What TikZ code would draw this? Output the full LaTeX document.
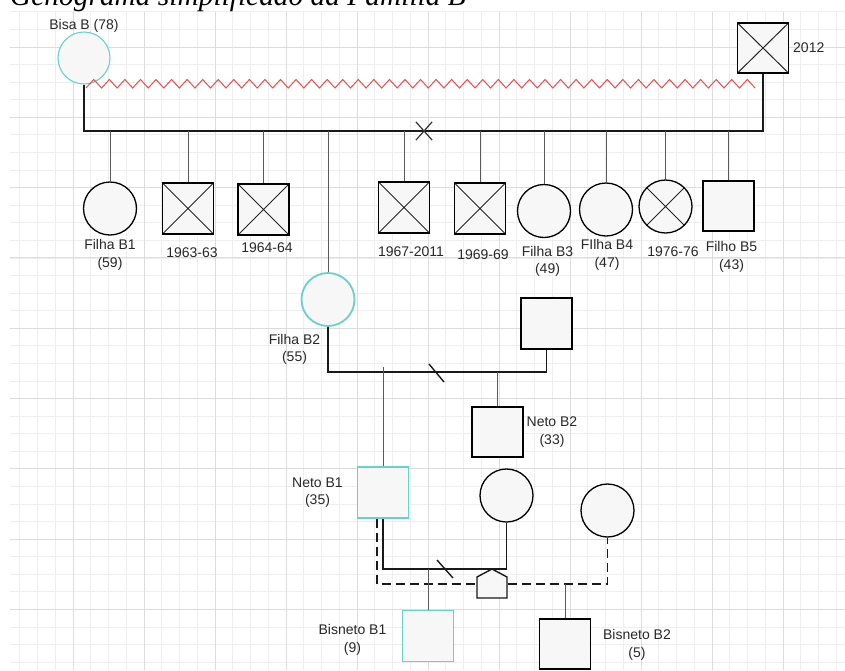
\documentclass[tikz,border=0pt]{standalone}
\usepackage{fontspec}
\newfontfamily\lsans{Liberation Sans}
\newfontfamily\lserif{Liberation Serif}
\usetikzlibrary{shapes.misc}
\definecolor{gminor}{RGB}{238,238,238}
\definecolor{gmajor}{RGB}{220,220,220}
\definecolor{symfill}{RGB}{247,247,247}
\definecolor{tealc}{RGB}{104,210,200}
\definecolor{zzred}{RGB}{228,78,78}
\definecolor{txt}{RGB}{40,40,40}
\definecolor{dropc}{RGB}{90,90,90}
\begin{document}
\begin{tikzpicture}[x=1pt,y=-1pt,
  male/.style={rectangle, draw=black, line width=1.3pt, fill=symfill, minimum width=51pt, minimum height=51pt, inner sep=0pt},
  female/.style={circle, draw=black, line width=1.3pt, fill=symfill, minimum size=53pt, inner sep=0pt},
  deadx/.style={path picture={\draw[line width=1pt,black!85] (path picture bounding box.north west) -- (path picture bounding box.south east) (path picture bounding box.south west) -- (path picture bounding box.north east);}},
  lbl/.style={font=\lsans\fontsize{14}{17.5}\selectfont, text=txt, align=center, inner sep=0pt},
  rel/.style={draw=black!90, line width=1.4pt},
  drop/.style={draw=dropc, line width=0.9pt},
  zz/.style={draw=zzred, line width=1pt, line join=miter},
  dashrel/.style={draw=black!90, line width=1.4pt, dash pattern=on 9pt off 5pt},
  gmin/.style={draw=gminor, line width=0.8pt},
  gmaj/.style={draw=gmajor, line width=0.9pt}
]
\useasboundingbox (0,0) rectangle (845,670);
\clip (0,0) rectangle (845,670);
\fill[white] (0,0) rectangle (845,670);
% grid
\foreach \i in {0,...,46} { \draw[gmin] ({19.75+17.75*\i},11.85) -- ({19.75+17.75*\i},670); }
\foreach \i in {0,...,37} { \draw[gmin] (10,{11.85+17.575*\i}) -- (845,{11.85+17.575*\i}); }
\foreach \i in {0,...,10} { \draw[gmaj] ({73+71*\i},11.85) -- ({73+71*\i},670); }
\foreach \i in {0,...,8} { \draw[gmaj] (10,{47+70.3*\i}) -- (845,{47+70.3*\i}); }
% title
\node[anchor=base west, inner sep=0pt, font=\lserif\itshape\fontsize{29.4}{32}\selectfont] (title) at (10,5) {Genograma simplificado da Família B};

% generation 1
\node[female, draw=tealc, line width=1.1pt, minimum size=52pt] (bisa) at (84,58) {};
\node[male, deadx, minimum height=50pt] (bisaP) at (763,48) {};
\node[lbl] (lbisa) at (84,26) {Bisa B (78)};
\node[lbl, anchor=west] (lbisaP) at (793,48) {2012};
\coordinate (zzs) at (86,88);
\draw[zz] (zzs) \foreach \i in {1,...,43} { -- ++(7.78,-8.5) -- ++(7.78,8.5) };
\coordinate (m1) at (84,131);
\coordinate (m2) at (763,131);
\draw[rel] (bisa.south) -- (m1) -- (m2) -- (bisaP.south);
\node[cross out, draw=black!80, line width=1.2pt, minimum width=15pt, minimum height=17pt, inner sep=0pt] (xsep) at (424,131) {};

% generation 2
\node[female] (fb1) at (110,208.5) {};
\node[male, deadx] (d63) at (188,208.5) {};
\node[male, deadx] (d64) at (263.5,209.5) {};
\node[male, deadx] (d67) at (404,207.5) {};
\node[male, deadx] (d69) at (480,208.5) {};
\node[female] (fb3) at (544,211) {};
\node[female] (fb4) at (606,209.5) {};
\node[female, deadx] (d76) at (665.5,206.5) {};
\node[male, minimum height=50pt] (fb5) at (728.5,206) {};
\node[female, draw=tealc, line width=1.8pt] (fb2) at (328,299.5) {};
\foreach \n in {fb1,d63,d64,d67,d69,fb3,fb4,d76,fb5,fb2} { \draw[drop] (\n.north |- m1) -- (\n.north); }

\node[lbl] (lfb1) at (110,255) {Filha B1\\(59)};
\node[lbl] (l63) at (192,253) {1963-63};
\node[lbl] (l64) at (267,248) {1964-64};
\node[lbl] (l67) at (411,252) {1967-2011};
\node[lbl] (l69) at (483,255) {1969-69};
\node[lbl] (lfb3) at (547.5,261.5) {Filha B3\\(49)};
\node[lbl] (lfb4) at (607,255) {FIlha B4\\(47)};
\node[lbl] (l76) at (673,252) {1976-76};
\node[lbl] (lfb5) at (731.5,257) {Filho B5\\(43)};
\node[lbl] (lfb2) at (294.5,349.5) {Filha B2\\(55)};

% couple 2
\node[male] (pB2) at (546.5,323.5) {};
\coordinate (c2a) at (328,372);
\coordinate (c2b) at (546.5,372);
\draw[rel] (fb2.south) -- (c2a) -- (c2b) -- (pB2.south);
\draw[rel] (429,364) -- (444,382);

% generation 3
\node[male, draw=tealc] (nb1) at (383,492.5) {};
\node[male, minimum height=50pt] (nb2) at (497.5,432) {};
\draw[drop] ([yshift=5pt]nb1.north |- c2a) -- (nb1.north);
\draw[drop] (nb2.north |- c2a) -- (nb2.north);
\node[lbl] (lnb2) at (552,432) {Neto B2\\(33)};
\node[lbl] (lnb1) at (317.5,492.5) {Neto B1\\(35)};

\node[female] (w1) at (506.5,495.5) {};
\node[female] (w2) at (607.5,510.5) {};
\coordinate (s3) at (506.5,569);
\coordinate (d3) at (607.5,584);
\draw[dashrel] ([xshift=-6pt]nb1.south) |- (d3) -- (w2.south);
\draw[rel] (nb1.south) |- (s3) -- (w1.south);
\draw[rel] (437,560) -- (453,578);
\draw[rel, fill=symfill] (477,598) -- (507,598) -- (507,577) -- (492,569) -- (477,577) -- cycle;

% generation 4
\node[male, draw=tealc] (bb1) at (428,636) {};
\node[male, minimum height=50pt] (bb2) at (565,644) {};
\draw[drop] (bb1.north |- s3) -- (bb1.north);
\draw[drop] (bb2.north |- d3) -- (bb2.north);
\node[lbl] (lbb1) at (352.5,640) {Bisneto B1\\(9)};
\node[lbl] (lbb2) at (637,645) {Bisneto B2\\(5)};
\end{tikzpicture}
\end{document}
